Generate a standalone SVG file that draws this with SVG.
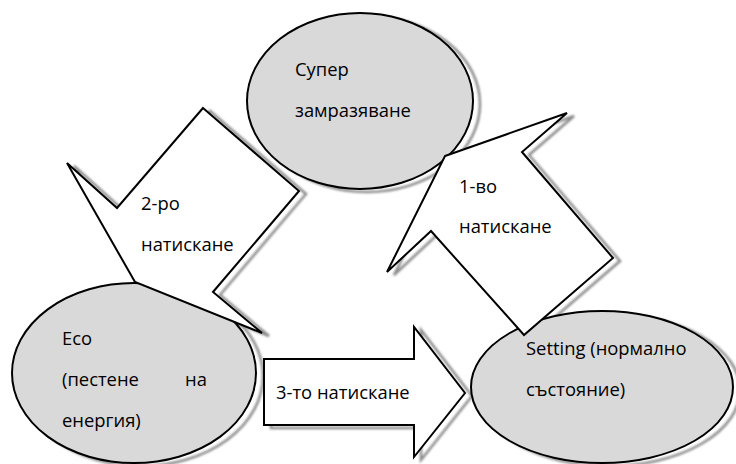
<svg xmlns="http://www.w3.org/2000/svg" width="736" height="464" viewBox="0 0 736 464">
<style>
.ell{fill:#d9d9d9;stroke:#000;stroke-width:2}
.arr{fill:#fff;stroke:#000;stroke-width:2;stroke-linejoin:miter}
.sh{fill:none;stroke:#8a8a8a;stroke-width:2.5;filter:url(#blur)}
text{font-family:"Open Sans","Noto Sans","DejaVu Sans",sans-serif;font-size:18.4px;fill:#000}
</style>
<defs>
<filter id="blur" x="-10%" y="-10%" width="120%" height="120%"><feGaussianBlur stdDeviation="1.1"/></filter>
</defs>
<rect width="736" height="464" fill="#fff"/>
<g id="shadows" transform="translate(7,3)">
<ellipse class="sh" cx="360" cy="101" rx="113" ry="88"/>
<ellipse class="sh" cx="134" cy="373" rx="122" ry="90"/>
<ellipse class="sh" cx="602" cy="387" rx="131" ry="76"/>
<polygon class="sh" points="203,108 299,191 213,292 262,333 135,282 67,163 117,208"/>
<polygon class="sh" points="445,156 567,113 522,152 613,258 524,335 431,231 387,272"/>
<polygon class="sh" points="264,359 414,359 414,327 465,393 414,457 414,425 264,425"/>
</g>
<g id="node-super">
<ellipse class="ell" cx="360" cy="101" rx="113" ry="88"/>
<text x="295" y="76">Супер</text>
<text x="295" y="117">замразяване</text>
</g>
<g id="node-eco">
<ellipse class="ell" cx="134" cy="373" rx="122" ry="90"/>
<text x="62" y="345">Eco</text>
<text x="62" y="386">(пестене</text>
<text x="185" y="386">на</text>
<text x="62" y="427">енергия)</text>
</g>
<g id="node-setting">
<ellipse class="ell" cx="602" cy="387" rx="131" ry="76"/>
<text x="526" y="355">Setting (нормално</text>
<text x="526" y="396">състояние)</text>
</g>
<g id="connectors">
<g id="arrow-2">
<polygon class="arr" points="203,108 299,191 213,292 262,333 135,282 67,163 117,208"/>
<text x="141" y="210">2-ро</text>
<text x="141" y="251">натискане</text>
</g>
<g id="arrow-1">
<polygon class="arr" points="445,156 567,113 522,152 613,258 524,335 431,231 387,272"/>
<text x="459" y="193">1-во</text>
<text x="459" y="233">натискане</text>
</g>
<g id="arrow-3">
<polygon class="arr" points="264,359 414,359 414,327 465,393 414,457 414,425 264,425"/>
<text x="276" y="399">3-то натискане</text>
</g>
</g>
</svg>
